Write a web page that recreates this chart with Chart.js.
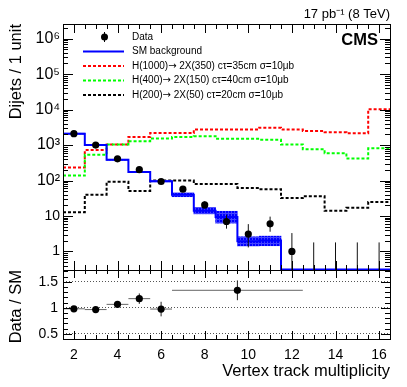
<!DOCTYPE html>
<html><head><meta charset="utf-8">
<script src="https://cdn.jsdelivr.net/npm/chart.js@4.4.1/dist/chart.umd.min.js"></script>
<style>
html,body{margin:0;padding:0;background:#fff;width:407px;height:387px;overflow:hidden}
canvas{position:absolute;left:0;top:0}
</style></head><body>
<canvas id="topc" width="407" height="387"></canvas>
<canvas id="ratioc" width="407" height="387"></canvas>
<script>
// ---------------- data ----------------
const bins = [2,3,4,5,6,7,8,9,10,11,12,13,14,15,16];
const dataCounts = [2100,1000,410,203,94,57,20.5,7,3.1,6,1,0,0,0,0];
const dataErrHi  = [2146,1032,430,217,104,65,26,10.8,5.9,9.6,3.3,1.8,1.8,1.8,1.8];
const dataErrLo  = [2054,968,390,189,84,50,16,4.4,1.3,3.6,0.17,0,0,0,0];
const smBackground = [2100,1000,385,174,96,40,14,9.3,1.95,2.05,0,0,0,0,0];
const smBandLo = [2030,968,372,168,92,35,11.5,6.3,1.43,1.45,0,0,0,0,0];
const smBandHi = [2170,1035,398,180,100,45,17.5,13.6,2.6,2.7,0,0,0,0,0];
const sigH1000 = [235,725,1040,1700,2200,2200,2770,2770,2770,3090,2770,2500,2300,2150,10300];
const sigH400  = [138,530,1040,1290,1530,1700,1775,1500,1500,1420,1040,760,590,420,810];
const sigH200  = [12.8,40,92,51,100,100,80,80,62,57,32,36,14,17,25];
const ratioX    = [2,3,4,5,6,9.5];
const ratioXErr = [0.5,0.5,0.5,0.5,0.5,3];
const ratioVal  = [0.98,0.965,1.065,1.175,0.975,1.335];
const ratioErr  = [0.03,0.03,0.05,0.1,0.14,0.19];
const xTickLabels = [2,4,6,8,10,12,14,16];
const yTickLabels = ['1','10','10²','10³','10⁴','10⁵','10⁶'];
const ratioTicks = [0.5,1,1.5];
const legendLabels = ['Data','SM background',
  'H(1000)→ 2X(350) cτ=35cm σ=10μb',
  'H(400)→ 2X(150) cτ=40cm σ=10μb',
  'H(200)→ 2X(50) cτ=20cm σ=10μb'];

// ---------------- style / layout ----------------
const FONT = "'Liberation Sans', Arial, Helvetica, sans-serif";
Chart.defaults.font.family = FONT;
Chart.defaults.color = '#000';
const X_MIN = 1.5, X_MAX = 16.5;
const Y_MIN = 0.31, Y_MAX = 2.6e6;
const R_MIN = 0.4, R_MAX = 1.725;
const AXIS_W = 63;

function stepPoints(values, floor) {
  const pts = bins.map((b, i) => ({x: b - 0.5, y: Math.max(values[i], floor)}));
  pts.push({x: bins[bins.length - 1] + 0.5, y: Math.max(values[values.length - 1], floor)});
  return pts;
}
function vSegments(xs, lo, hi, floor) {
  const pts = [];
  xs.forEach((x, i) => { pts.push({x, y: Math.max(lo[i], floor)}, {x, y: hi[i]}, {x, y: null}); });
  return pts;
}

function bandPattern(ctx) {
  const c = document.createElement('canvas'); c.width = 3; c.height = 3;
  const g = c.getContext('2d');
  g.fillStyle = '#0000ff'; g.fillRect(0, 0, 3, 3);
  g.fillStyle = '#4444ff'; g.fillRect(0, 0, 3, 1); g.fillRect(0, 0, 1, 3);
  return ctx.createPattern(c, 'repeat');
}

function drawFrame(chart, yTickList, xMajor, xMinor) {
  const {ctx, chartArea: a, scales} = chart;
  const xs = scales.x, ys = scales.y;
  ctx.save();
  ctx.strokeStyle = '#000'; ctx.lineWidth = 1;
  ctx.beginPath();
  for (let k = 4; k <= 32; k++) {
    const v = k / 2;
    const px = Math.round(xs.getPixelForValue(v)) + 0.5;
    const len = (v % 2 === 0) ? xMajor : xMinor;
    ctx.moveTo(px, a.top); ctx.lineTo(px, a.top + len);
    ctx.moveTo(px, a.bottom); ctx.lineTo(px, a.bottom - len);
  }
  for (const t of yTickList) {
    const py = Math.round(ys.getPixelForValue(t.v)) + 0.5;
    ctx.moveTo(a.left, py); ctx.lineTo(a.left + t.len, py);
    ctx.moveTo(a.right, py); ctx.lineTo(a.right - t.len, py);
  }
  ctx.stroke();
  ctx.strokeRect(Math.round(a.left) + 0.5, Math.round(a.top) + 0.5,
                 Math.round(a.right - a.left), Math.round(a.bottom - a.top));
  ctx.restore();
}

// draw text, rendering the arrow glyph with a font that has a full-width arrow
function fillTextArrow(ctx, text, x, y, size) {
  const parts = text.split('→');
  let cx = x;
  parts.forEach((p, i) => {
    ctx.font = size + 'px ' + FONT;
    ctx.fillText(p, cx, y);
    cx += ctx.measureText(p).width;
    if (i < parts.length - 1) {
      ctx.font = size + "px 'DejaVu Sans', sans-serif";
      ctx.fillText('→', cx, y);
      cx += ctx.measureText('→').width;
    }
  });
}

const topCanvas = document.getElementById('topc');
const topCtx = topCanvas.getContext('2d');

const topPlugin = {
  id: 'topDecor',
  afterDraw(chart) {
    const ticks = [];
    for (let d = -1; d <= 6; d++) for (let m = 1; m <= 9; m++) {
      const v = m * Math.pow(10, d);
      if (v > Y_MIN && v < Y_MAX) ticks.push({v, len: m === 1 ? 10 : 5});
    }
    drawFrame(chart, ticks, 9, 5);
    const ctx = chart.ctx;
    ctx.save();
    ctx.fillStyle = '#000';
    ctx.textAlign = 'right'; ctx.textBaseline = 'alphabetic';
    ctx.font = '13px ' + FONT;
    ctx.fillText('17 pb⁻¹ (8 TeV)', 390, 18);
    ctx.font = 'bold 16.5px ' + FONT;
    ctx.fillText('CMS', 378, 45);
    // legend
    const lx0 = 83, lx1 = 124, tx = 132;
    const rows = [37, 51.5, 66, 80.5, 95];
    ctx.textAlign = 'left'; ctx.textBaseline = 'middle';
    ctx.strokeStyle = '#000'; ctx.lineWidth = 1;
    ctx.beginPath(); ctx.moveTo(104.5, rows[0] - 5); ctx.lineTo(104.5, rows[0] + 5); ctx.stroke();
    ctx.beginPath(); ctx.arc(104.5, rows[0], 3.5, 0, 2 * Math.PI); ctx.fillStyle = '#000'; ctx.fill();
    const styles = [null, {c: '#0000ff', d: []}, {c: '#ff0000', d: [3, 2]}, {c: '#00ff00', d: [3, 2]}, {c: '#000', d: [3, 2]}];
    for (let i = 1; i < 5; i++) {
      ctx.strokeStyle = styles[i].c; ctx.lineWidth = 2; ctx.setLineDash(styles[i].d);
      ctx.beginPath(); ctx.moveTo(lx0, rows[i]); ctx.lineTo(lx1, rows[i]); ctx.stroke();
    }
    ctx.setLineDash([]);
    ctx.fillStyle = '#000';
    legendLabels.forEach((t, i) => fillTextArrow(ctx, t, tx, rows[i], 10));
    ctx.restore();
  }
};

const ratioPlugin = {
  id: 'ratioDecor',
  afterDraw(chart) {
    const ticks = [];
    for (let k = 4; k <= 17; k++) {
      const v = k / 10;
      if (v > R_MIN && v < R_MAX) ticks.push({v, len: (k % 5 === 0) ? 9 : 5});
    }
    drawFrame(chart, ticks, 8, 4);
  }
};

const dash = [3, 2];
new Chart(topCtx, {
  type: 'line',
  data: {
    datasets: [
      { label: 'Data', data: bins.map((b, i) => ({x: b, y: dataCounts[i] > 0 ? dataCounts[i] : null})),
        showLine: false, pointRadius: 3.6, pointBackgroundColor: '#000', pointBorderWidth: 0, order: 0 },
      { label: 'Data errors', data: vSegments(bins, dataErrLo, dataErrHi, Y_MIN * 0.5),
        borderColor: '#111', borderWidth: 1, pointRadius: 0, spanGaps: false, order: 1 },
      { label: 'SM background', data: stepPoints(smBackground, Y_MIN), stepped: 'before',
        borderColor: '#0000ff', borderWidth: 2, pointRadius: 0, order: 2 },
      { type: 'bar', label: 'SM uncertainty',
        data: bins.map((b, i) => ({x: b, y: smBandHi[i] > 0 ? [smBandLo[i], smBandHi[i]] : null})),
        backgroundColor: bandPattern(topCtx), borderWidth: 0, barPercentage: 1, categoryPercentage: 1,
        grouped: false, order: 3 },
      { label: 'H200', data: stepPoints(sigH200, Y_MIN), stepped: 'before', borderColor: '#000',
        borderWidth: 2, borderDash: dash, pointRadius: 0, order: 4 },
      { label: 'H400', data: stepPoints(sigH400, Y_MIN), stepped: 'before', borderColor: '#00ff00',
        borderWidth: 2, borderDash: dash, pointRadius: 0, order: 5 },
      { label: 'H1000', data: stepPoints(sigH1000, Y_MIN), stepped: 'before', borderColor: '#ff0000',
        borderWidth: 2, borderDash: dash, pointRadius: 0, order: 6 }
    ]
  },
  options: {
    responsive: false, animation: false, devicePixelRatio: 1,
    layout: { padding: {top: 24, right: 17, bottom: 117, left: 0} },
    plugins: { legend: {display: false}, tooltip: {enabled: false} },
    scales: {
      x: { type: 'linear', min: X_MIN, max: X_MAX, offset: false, display: false },
      y: { type: 'logarithmic', min: Y_MIN, max: Y_MAX,
        afterFit(s) { s.width = AXIS_W; },
        afterBuildTicks(s) { s.ticks = [1, 10, 100, 1e3, 1e4, 1e5, 1e6].map(v => ({value: v})); },
        ticks: { autoSkip: false, padding: 3,
          callback: (v) => yTickLabels[Math.round(Math.log10(v))],
          font: (c) => ({ size: (c.tick && c.tick.value >= 100) ? 16 : 14, family: FONT }) },
        grid: { display: false, drawTicks: false }, border: { display: false },
        title: { display: true, text: 'Dijets / 1 unit', align: 'end', padding: {top: 7, bottom: 0},
          font: { size: 16.5, family: FONT } } }
    }
  },
  plugins: [topPlugin]
});

const ratioCtx = document.getElementById('ratioc').getContext('2d');
new Chart(ratioCtx, {
  type: 'line',
  data: {
    datasets: [
      { label: 'Ratio', data: ratioX.map((x, i) => ({x, y: ratioVal[i]})), showLine: false,
        pointRadius: 3.6, pointBackgroundColor: '#000', pointBorderWidth: 0, order: 0 },
      { label: 'Ratio y errors', data: vSegments(ratioX, ratioVal.map((v, i) => v - ratioErr[i]),
          ratioVal.map((v, i) => v + ratioErr[i]), -1), borderColor: '#222', borderWidth: 1,
        pointRadius: 0, spanGaps: false, order: 1 },
      { label: 'Ratio x errors', data: ratioX.flatMap((x, i) => [{x: x - ratioXErr[i], y: ratioVal[i]},
          {x: x + ratioXErr[i], y: ratioVal[i]}, {x: x, y: null}]), borderColor: '#666', borderWidth: 1,
        pointRadius: 0, spanGaps: false, order: 2 }
    ]
  },
  options: {
    responsive: false, animation: false, devicePixelRatio: 1,
    layout: { padding: {top: 270, right: 17, bottom: 0, left: 0} },
    plugins: { legend: {display: false}, tooltip: {enabled: false} },
    scales: {
      x: { type: 'linear', min: X_MIN, max: X_MAX, offset: false,
        afterFit(s) { s.height = 48; },
        afterBuildTicks(s) { s.ticks = xTickLabels.map(v => ({value: v})); },
        ticks: { autoSkip: false, maxRotation: 0, padding: 8, font: {size: 14, family: FONT},
          callback: (v) => String(v) },
        grid: { display: false, drawTicks: false }, border: { display: false },
        title: { display: true, text: 'Vertex track multiplicity', align: 'end', padding: {top: 0, bottom: 6},
          font: { size: 16.5, family: FONT } } },
      y: { type: 'linear', min: R_MIN, max: R_MAX,
        afterFit(s) { s.width = AXIS_W; },
        afterBuildTicks(s) { s.ticks = ratioTicks.map(v => ({value: v})); },
        ticks: { autoSkip: false, padding: 5, font: {size: 14, family: FONT}, callback: (v) => String(v) },
        grid: { display: true, drawTicks: false, color: '#555', lineWidth: 1 },
        border: { display: false, dash: [1, 2] },
        title: { display: true, text: 'Data / SM', align: 'end', padding: {top: 7, bottom: 0},
          font: { size: 16.5, family: FONT } } }
    }
  },
  plugins: [ratioPlugin]
});
</script>
</body></html>
